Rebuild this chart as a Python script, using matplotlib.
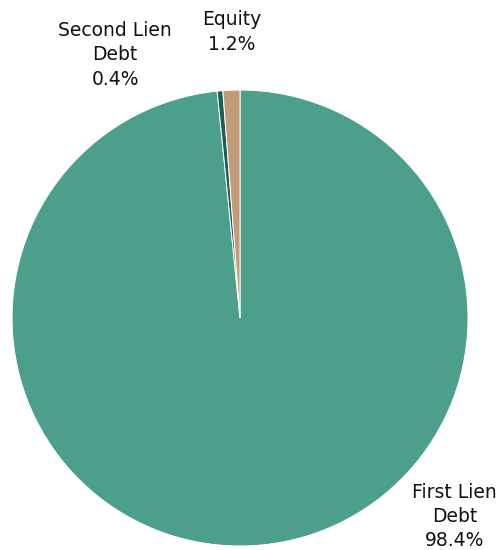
import matplotlib
matplotlib.use("Agg")
from matplotlib import pyplot as plt

labels = ["First Lien\nDebt", "Second Lien\nDebt", "Equity"]
shares = [98.4, 0.4, 1.2]
colors = ["#4C9F8A", "#1D5E58", "#C49B78"]
# label text centres in data units (pie radius = 1)
label_pos = [(0.94, -0.87), (-0.548, 1.154), (-0.035, 1.255)]

fig = plt.figure(figsize=(5.03, 5.5), dpi=100)
ax = fig.add_axes([0.0239, 0.0073, 0.9066, 0.829])

wedges, _ = ax.pie(shares, colors=colors, startangle=90, counterclock=False,
                   radius=1, wedgeprops=dict(edgecolor="white", linewidth=0.7))

for lab, val, (x, y) in zip(labels, shares, label_pos):
    ax.text(x, y, f"{lab}\n{val:.1f}%", ha="center", va="center",
            fontsize=13.5, linespacing=1.35, color="#111111", clip_on=False)

ax.set_xlim(-1, 1)
ax.set_ylim(-1, 1)
ax.set_aspect("equal")
ax.axis("off")

plt.savefig("out.png", dpi=100)
